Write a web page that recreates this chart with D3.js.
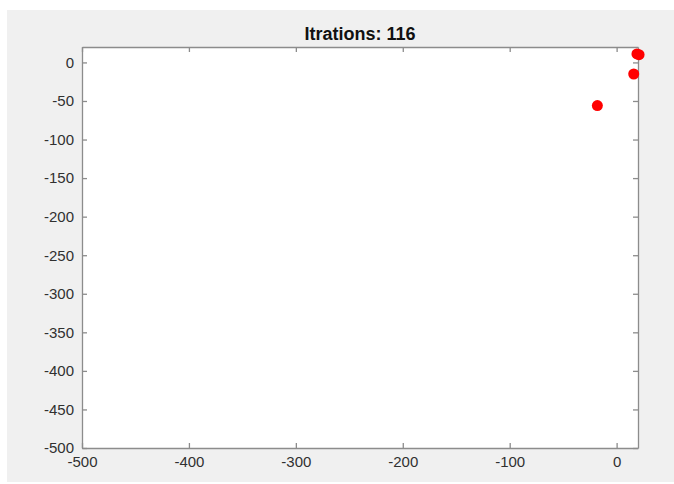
<!DOCTYPE html>
<html lang="en">
<head>
<meta charset="utf-8">
<title>Itrations</title>
<script src="https://cdnjs.cloudflare.com/ajax/libs/d3/7.8.5/d3.min.js"></script>
<style>
body { margin: 0; background: #fff; }
.axis text {
   font-family: Arial, "Liberation Sans", sans-serif;
   font-size: 15px;
   fill: #303030;
}
.axis path, .axis line {
   stroke: #8c8c8c;
   stroke-width: 1.3;
}
.pt {
   fill: #ff0000;
}
</style>
</head>
<body>
<div id="chart"></div>
<script>

const w = 674;
const h = 484;

// plot box edges
const boxLeft = 82, boxRight = 638, boxTop = 47, boxBottom = 448;

const title = "Itrations: 116";
const xDomain = [-500, 20];
const yDomain = [-500, 20];
const xTicks = [-500, -400, -300, -200, -100, 0];
const yTicks = [0, -50, -100, -150, -200, -250, -300, -350, -400, -450, -500];

// particle positions
const xs = [19, 21, 16, -18];
const ys = [11, 10, -15, -56];

const svg = d3.select("#chart")
   .append("svg")
   .attr("width", w)
   .attr("height", h);

// grey figure background
svg.append("rect")
   .attr("x", 7)
   .attr("y", 10)
   .attr("width", w - 7)
   .attr("height", 472)
   .attr("fill", "#f0f0f0");

svg.append("rect")
   .attr("x", boxLeft)
   .attr("y", boxTop)
   .attr("width", boxRight - boxLeft)
   .attr("height", boxBottom - boxTop)
   .attr("fill", "#fff");

const xScale = d3.scaleLinear().domain(xDomain).range([boxLeft, boxRight]);
const yScale = d3.scaleLinear().domain(yDomain).range([boxBottom, boxTop]);

// bottom / left with labels, top / right just ticks (MATLAB box)
svg.append("g")
   .attr("class", "axis")
   .attr("transform", "translate(0," + boxBottom + ")")
   .call(d3.axisBottom(xScale).tickValues(xTicks).tickSize(-5).tickSizeOuter(0).tickPadding(8));

svg.append("g")
   .attr("class", "axis")
   .attr("transform", "translate(" + boxLeft + ",0)")
   .call(d3.axisLeft(yScale).tickValues(yTicks).tickSize(-5).tickSizeOuter(0).tickPadding(8));

svg.append("g")
   .attr("class", "axis")
   .attr("transform", "translate(0," + boxTop + ")")
   .call(d3.axisTop(xScale).tickValues(xTicks).tickSize(-5).tickSizeOuter(0).tickFormat(""));

svg.append("g")
   .attr("class", "axis")
   .attr("transform", "translate(" + boxRight + ",0)")
   .call(d3.axisRight(yScale).tickValues(yTicks).tickSize(-5).tickSizeOuter(0).tickFormat(""));

svg.selectAll(".axis text").text(function() {
   return this.textContent.replace("\u2212", "-");
});

svg.selectAll(".pt")
   .data(xs)
   .enter()
   .append("circle")
   .attr("class", "pt")
   .attr("r", 5.5)
   .attr("cx", d => xScale(d))
   .attr("cy", (d, i) => yScale(ys[i]));

svg.append("text")
   .attr("x", (boxLeft + boxRight) / 2)
   .attr("y", 40)
   .attr("text-anchor", "middle")
   .style("font-family", "Arial, 'Liberation Sans', sans-serif")
   .style("font-size", "18px")
   .style("font-weight", "bold")
   .style("fill", "#111")
   .text(title);

</script>
</body>
</html>
